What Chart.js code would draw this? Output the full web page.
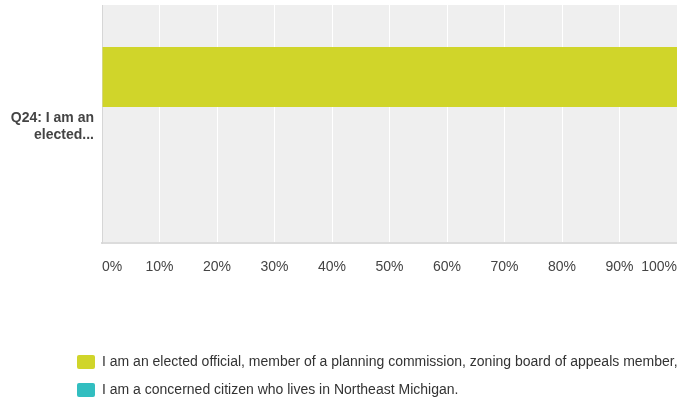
<!DOCTYPE html>
<html>
<head>
<meta charset="utf-8">
<script src="https://cdn.jsdelivr.net/npm/chart.js@4"></script>
<style>
  body { margin: 0; overflow: hidden; background: #fff; }
  #wrap { width: 677px; height: 407px; position: relative; }
</style>
</head>
<body>
<div id="wrap"><canvas id="myBarChart"></canvas></div>
<script>
// data
var questions = [['Q24: I am an', 'elected...']];
var seriesNames = [
    'I am an elected official, member of a planning commission, zoning board of appeals member, or local government staff.',
    'I am a concerned citizen who lives in Northeast Michigan.'
];
var electedPct = [100];
var citizenPct = [0];
var tickMax = 100;
var tickStep = 10;

var ctx = document.getElementById('myBarChart').getContext('2d');

// grey plot background + legend pushed in from the left edge
var plotBg = {
    id: 'plotBg',
    afterLayout: function (chart) {
        if (chart.legend) chart.legend.left = 63;
    },
    beforeDraw: function (chart) {
        var a = chart.chartArea;
        chart.ctx.save();
        chart.ctx.fillStyle = '#efefef';
        chart.ctx.fillRect(a.left, a.top, a.right - a.left, a.bottom - a.top);
        chart.ctx.restore();
    }
};

var myBarChart = new Chart(ctx, {
    type: 'bar',
    data: {
        labels: questions,
        datasets: [{
            label: seriesNames[0],
            data: electedPct,
            backgroundColor: '#d0d52a',
            categoryPercentage: 0.79,
            barPercentage: 0.638
        }, {
            label: seriesNames[1],
            data: citizenPct,
            backgroundColor: '#32bec0',
            categoryPercentage: 0.79,
            barPercentage: 0.638
        }]
    },
    options: {
        indexAxis: 'y',
        responsive: true,
        maintainAspectRatio: false,
        animation: false,
        layout: { padding: { left: 0, top: 5, right: 0, bottom: 0 } },
        scales: {
            x: {
                min: 0,
                max: tickMax,
                grid: { color: '#ffffff', lineWidth: 1, drawTicks: false },
                border: { display: true, color: '#dcdcdc', width: 2 },
                ticks: {
                    stepSize: tickStep,
                    align: 'inner',
                    padding: 16,
                    color: '#444',
                    font: { family: 'Liberation Sans, Arial', size: 14 },
                    callback: function (v) { return v + '%'; }
                },
                afterFit: function (scale) {
                    scale.height = 98;
                    scale.paddingLeft = 0;
                    scale.paddingRight = 0;
                }
            },
            y: {
                grid: { display: false, drawTicks: false },
                border: { display: true, color: '#d6d6d6', width: 1 },
                ticks: {
                    padding: 8,
                    labelOffset: 3,
                    color: '#444',
                    font: { family: 'Liberation Sans, Arial', size: 14, weight: 'bold' }
                },
                afterFit: function (scale) {
                    scale.width = 102;
                    scale.paddingTop = 0;
                    scale.paddingBottom = 0;
                }
            }
        },
        plugins: {
            tooltip: { enabled: false },
            legend: {
                position: 'bottom',
                align: 'start',
                labels: {
                    boxWidth: 18,
                    boxHeight: 14,
                    padding: 14,
                    useBorderRadius: true,
                    borderRadius: 2,
                    color: '#333',
                    font: { family: 'Liberation Sans, Arial', size: 14 }
                }
            }
        }
    },
    plugins: [plotBg]
});
</script>
</body>
</html>
